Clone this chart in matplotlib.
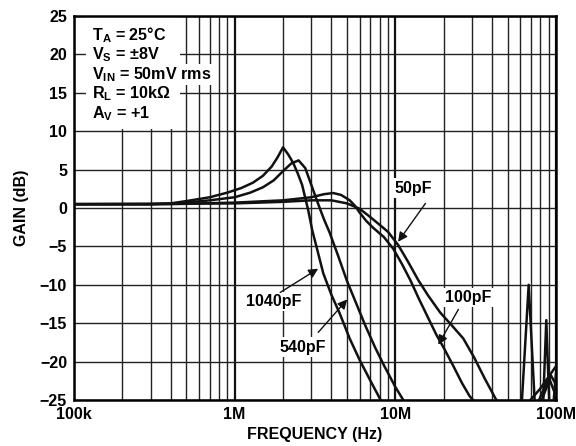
"""
Closed-loop gain vs frequency for several capacitive loads (A_V = +1).
"""

import matplotlib
matplotlib.use("Agg")
import matplotlib.pyplot as plt
from matplotlib.ticker import FixedLocator, FixedFormatter, LogLocator, NullFormatter
from matplotlib.patches import Rectangle

plt.rcParams["font.family"] = ["Liberation Sans", "DejaVu Sans"]
plt.rcParams["font.weight"] = "bold"
plt.rcParams["mathtext.fontset"] = "custom"
plt.rcParams["mathtext.rm"] = "Liberation Sans:bold"
plt.rcParams["mathtext.it"] = "Liberation Sans:bold"
plt.rcParams["mathtext.bf"] = "Liberation Sans:bold"
plt.rcParams["mathtext.default"] = "rm"

# ---------------------------------------------------------------------------
# Data (frequency in MHz, gain in dB)
# ---------------------------------------------------------------------------
freq_1040 = [0.1, 0.3, 0.4, 0.5, 0.7, 0.9, 1.1, 1.3, 1.5, 1.7, 1.85, 2.0,
             2.15, 2.31, 2.47, 2.63, 2.87, 3.04, 3.3, 3.56, 4.0, 4.5, 5.2,
             6.0, 7.0, 8.1, 9.0, 40.0, 75.0, 90.0, 100.0]
gain_1040 = [0.5, 0.5, 0.6, 0.9, 1.4, 2.0, 2.6, 3.3, 4.2, 5.4, 6.6, 7.9,
             7.0, 5.9, 4.5, 3.0, -0.3, -2.9, -5.8, -8.5, -11.3, -13.7, -17.0,
             -19.8, -22.5, -25.0, -27.0, -35.0, -26.0, -22.0, -24.5]

freq_540 = [0.1, 0.3, 0.4, 0.5, 0.7, 1.0, 1.25, 1.5, 1.75, 2.0, 2.25, 2.5,
            2.75, 3.0, 3.3, 3.6, 3.9, 4.4, 5.0, 5.6, 6.5, 7.5, 8.5, 10.0,
            11.2, 12.5, 50.0, 80.0, 93.0, 100.0]
gain_540 = [0.5, 0.5, 0.55, 0.7, 1.0, 1.4, 2.0, 2.7, 3.6, 4.8, 5.8, 6.2,
            5.2, 3.0, 0.6, -1.5, -3.2, -6.2, -9.5, -12.0, -15.3, -18.2, -20.5, -23.3,
            -25.0, -26.5, -33.0, -25.5, -21.8, -23.0]

freq_100 = [0.1, 0.4, 1.0, 2.0, 3.0, 3.6, 4.1, 4.6, 5.2, 5.6, 6.0, 6.6,
            7.3, 8.5, 9.7, 11.0, 12.4, 14.0, 16.0, 18.0, 20.0, 23.0, 26.0,
            29.0, 32.0, 50.0, 66.0, 80.0, 100.0]
gain_100 = [0.5, 0.5, 0.7, 1.0, 1.4, 1.8, 1.95, 1.7, 1.0, 0.3, -0.6, -1.7,
            -2.6, -3.8, -5.3, -7.3, -9.4, -11.8, -14.3, -16.5, -18.2, -20.6, -22.8,
            -24.5, -25.5, -28.0, -25.5, -23.5, -20.6]

freq_50 = [0.1, 1.0, 2.0, 3.0, 4.0, 5.0, 6.0, 7.0, 8.0, 9.0, 10.4, 12.0,
           13.9, 16.0, 19.0, 22.5, 26.5, 31.0, 36.0, 42.0, 46.0, 55.0, 61.0,
           67.6, 74.0, 78.0, 83.0, 87.0, 91.0, 95.0, 100.0]
gain_50 = [0.5, 0.6, 0.8, 1.0, 1.0, 0.6, -0.1, -1.2, -2.2, -3.1, -4.8, -7.0,
           -9.4, -11.4, -13.6, -15.3, -17.0, -19.5, -22.2, -24.8, -26.0, -31.0, -26.0,
           -10.0, -26.0, -31.0, -26.0, -14.6, -26.0, -27.0, -21.5]

curves = [
    (freq_1040, gain_1040),
    (freq_540, gain_540),
    (freq_100, gain_100),
    (freq_50, gain_50),
]

x_ticks = [1e5, 1e6, 1e7, 1e8]
x_tick_labels = ["100k", "1M", "10M", "100M"]
y_ticks = [-25, -20, -15, -10, -5, 0, 5, 10, 15, 20, 25]

conditions = [
    "T$_{A}$ = 25°C",
    "V$_{S}$ = ±8V",
    "V$_{IN}$ = 50mV rms",
    "R$_{L}$ = 10kΩ",
    "A$_{V}$ = +1",
]

# (label, text position, arrow start, arrow tip) in (Hz, dB)
labels = [
    ("50pF", (12.9e6, 2.6), (15.4e6, 0.6), (10.4e6, -4.4)),
    ("100pF", (28.5e6, -11.7), (24.7e6, -13.2), (18.5e6, -17.8)),
    ("1040pF", (1.74e6, -12.2), (1.92e6, -11.0), (3.31e6, -7.9)),
    ("540pF", (2.67e6, -18.1), (3.31e6, -16.2), (5.02e6, -11.9)),
]

# ---------------------------------------------------------------------------
# Plot
# ---------------------------------------------------------------------------
fig = plt.figure(figsize=(5.76, 4.46), dpi=100)
ax = fig.add_axes([74 / 576, 1 - 400 / 446, 482 / 576, 384 / 446])

ax.set_xscale("log")
ax.set_xlim(1e5, 1e8)
ax.set_ylim(-25, 25)

ax.xaxis.set_major_locator(FixedLocator(x_ticks))
ax.xaxis.set_major_formatter(FixedFormatter(x_tick_labels))
ax.xaxis.set_minor_locator(LogLocator(base=10, subs=range(2, 10)))
ax.xaxis.set_minor_formatter(NullFormatter())
ax.yaxis.set_major_locator(FixedLocator(y_ticks))

ax.grid(True, which="major", axis="x", color="#111111", lw=1.6, zorder=1)
ax.grid(True, which="minor", axis="x", color="#222222", lw=1.0, zorder=1)
ax.grid(True, which="major", axis="y", color="#222222", lw=1.0, zorder=1)
ax.set_axisbelow(True)
ax.tick_params(which="both", length=0, labelsize=11.5, pad=5)
for s in ax.spines.values():
    s.set_linewidth(1.8)

for f, g in curves:
    ax.plot([v * 1e6 for v in f], g, color="#111111", lw=1.8, zorder=4)

# white block behind the test conditions
ax.add_patch(Rectangle((0.025, 0.706), 0.195, 0.3, transform=ax.transAxes,
                       facecolor="white", edgecolor="none", zorder=2))
for i, line in enumerate(conditions):
    ax.text(0.037, 0.9375 - i * 0.0508, line, transform=ax.transAxes,
            fontsize=11.6, fontweight="bold", va="baseline", ha="left", zorder=3,
            bbox=dict(facecolor="white", edgecolor="none", pad=1.0))

for name, txt_pos, start, tip in labels:
    ax.text(txt_pos[0], txt_pos[1], name, fontsize=11.5, fontweight="bold",
            ha="center", va="center", zorder=5,
            bbox=dict(facecolor="white", edgecolor="none", pad=1.5))
    ax.annotate("", xy=tip, xytext=start, zorder=5,
                arrowprops=dict(arrowstyle="-|>", color="#111111", lw=1.0,
                                mutation_scale=14, shrinkA=0, shrinkB=0))

ax.set_xlabel("FREQUENCY (Hz)", fontsize=11.5, fontweight="bold", labelpad=4)
ax.set_ylabel("GAIN (dB)", fontsize=11.5, fontweight="bold", labelpad=8)

fig.savefig("out.png", dpi=100)
